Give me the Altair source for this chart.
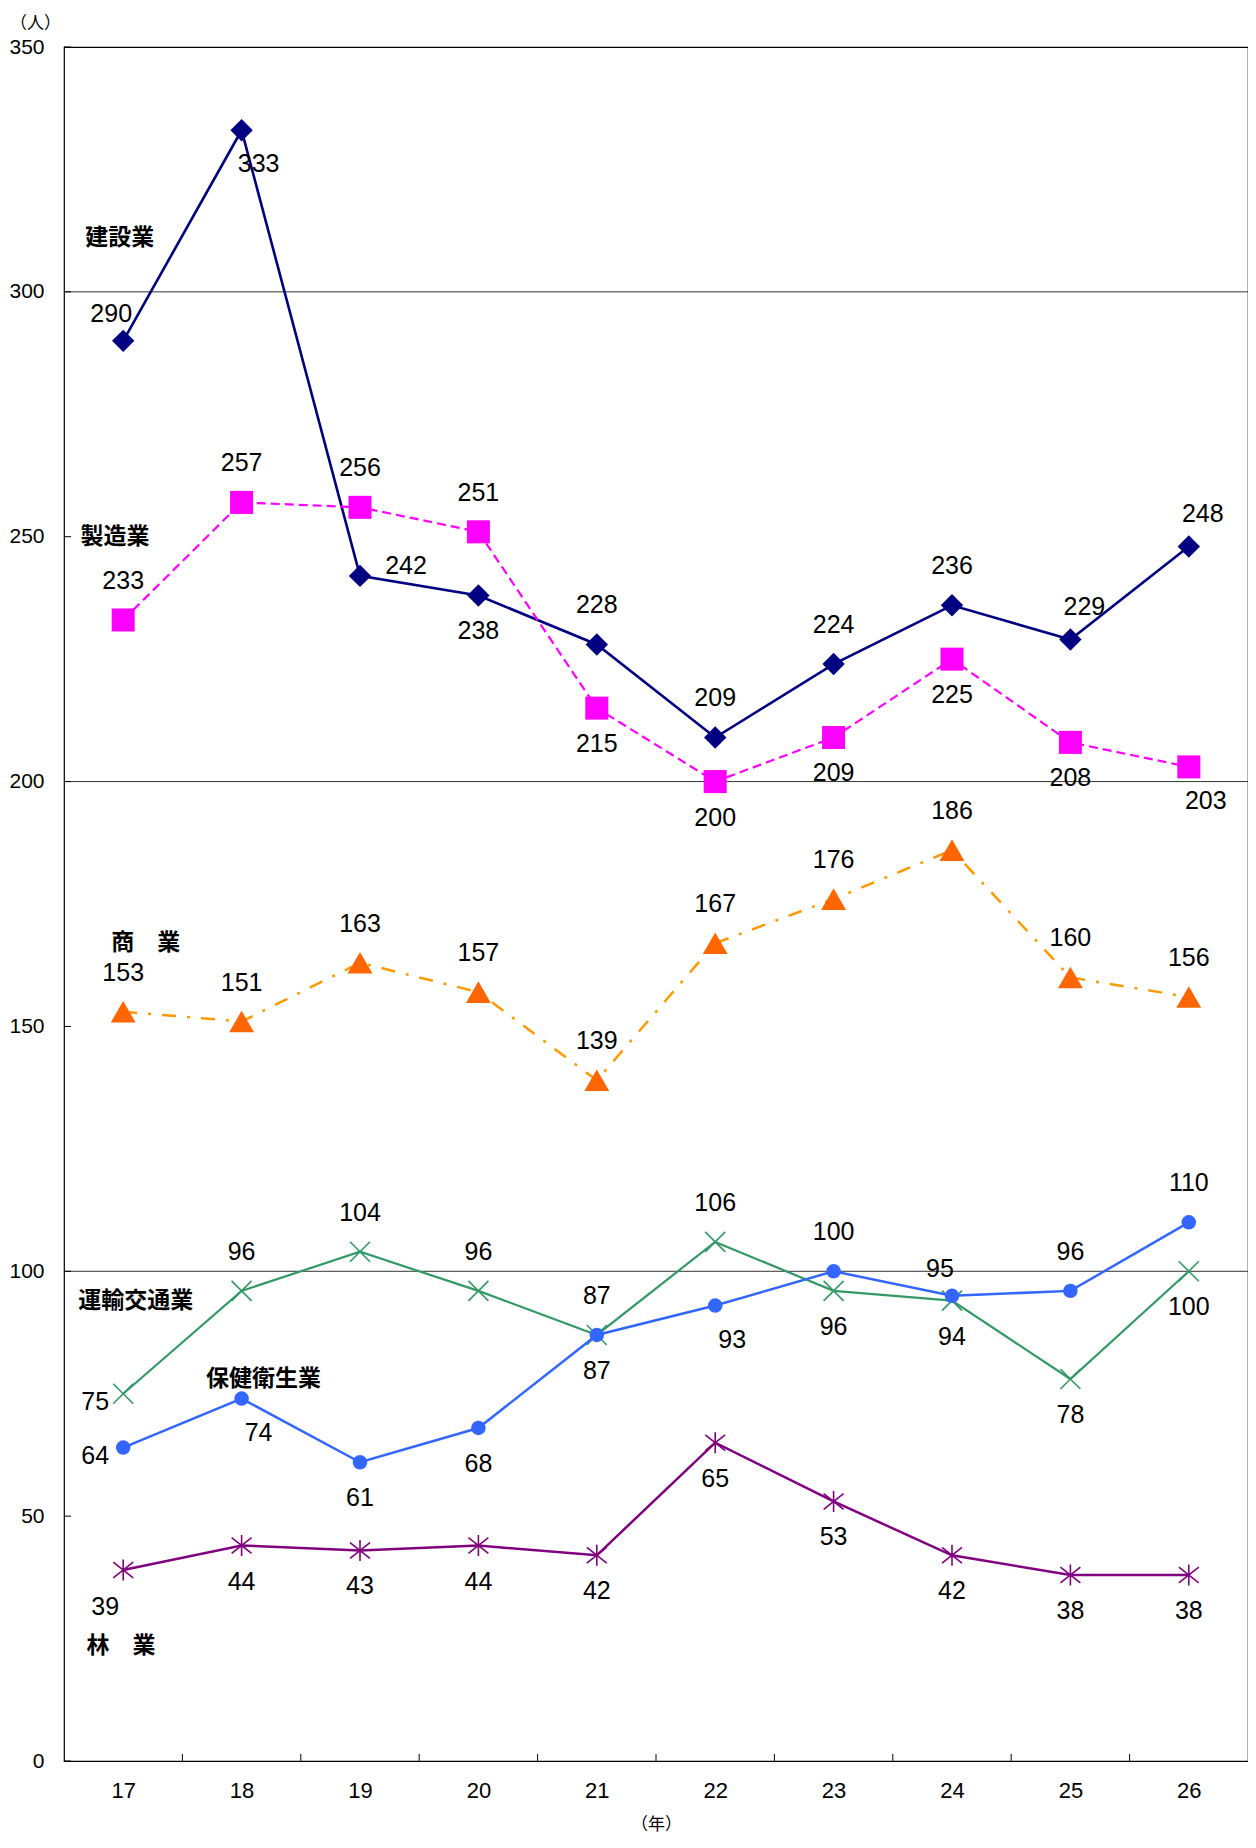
import altair as alt
import pandas as pd

# ---------------- data ----------------
years = [17, 18, 19, 20, 21, 22, 23, 24, 25, 26]

series_names = ["建設業", "製造業", "商業", "運輸交通業", "保健衛生業", "林業"]

kensetsu = [290, 333, 242, 238, 228, 209, 224, 236, 229, 248]
seizo = [233, 257, 256, 251, 215, 200, 209, 225, 208, 203]
shogyo = [153, 151, 163, 157, 139, 167, 176, 186, 160, 156]
unyu = [75, 96, 104, 96, 87, 106, 96, 94, 78, 100]
hoken = [64, 74, 61, 68, 87, 93, 100, 95, 96, 110]
ringyo = [39, 44, 43, 44, 42, 65, 53, 42, 38, 38]

# label placement of each value (compass direction from its marker)
kensetsu_pos = ["NW", "SE", "E", "S", "N", "N", "N", "N", "NE", "NE"]
seizo_pos = ["N", "N", "N", "N", "S", "S", "S", "S", "S", "SE"]
shogyo_pos = ["N", "N", "N", "N", "N", "N", "N", "N", "N", "N"]
unyu_pos = ["W", "N", "N", "N", "N", "N", "S", "S", "S", "S"]
hoken_pos = ["W", "SE", "S", "S", "S", "SE", "N", "NW", "N", "N"]
ringyo_pos = ["SW", "S", "S", "S", "S", "S", "S", "S", "S", "S"]

# series name annotations
name_text = ["建設業", "製造業", "商　業", "運輸交通業", "保健衛生業", "林　業"]
name_x = [16.68, 16.64, 16.90, 16.62, 17.70, 16.69]
name_y = [311, 250, 167, 94, 78, 23.5]

y_tick_values = [0, 50, 100, 150, 200, 250, 300, 350]
grid_values = [100, 200, 300]

# ---------------- build tables ----------------
values = [kensetsu, seizo, shogyo, unyu, hoken, ringyo]
positions = [kensetsu_pos, seizo_pos, shogyo_pos, unyu_pos, hoken_pos, ringyo_pos]
rows = []
for name, vals, poss in zip(series_names, values, positions):
    for yr, v, p in zip(years, vals, poss):
        rows.append({"series": name, "year": yr, "value": v, "pos": p})
df = pd.DataFrame(rows)

names_df = pd.DataFrame({"year": name_x, "value": name_y, "label": name_text})
grid_df = pd.DataFrame({"value": grid_values})
ytick_df = pd.DataFrame({"value": y_tick_values})
xtick_df = pd.DataFrame({"year": [y + 0.5 for y in years[:-1]]})

W, H = 1184, 1714
NUM_FONT = "Liberation Sans"
CJK_FONT = "Noto Sans CJK JP"

x_enc = alt.X(
    "year:Q",
    scale=alt.Scale(domain=[16.5, 26.5], nice=False, zero=False),
    axis=alt.Axis(
        values=years, format="d", grid=False, ticks=False, tickSize=0, domain=False,
        labelFont=NUM_FONT, labelFontSize=22, labelColor="#000",
        labelPadding=29, labelBaseline="middle",
        title="（年）", titleFont=CJK_FONT, titleFontSize=17, titleFontWeight="normal",
        titleColor="#000", titleY=63, titleBaseline="middle",
    ),
)
y_enc = alt.Y(
    "value:Q",
    scale=alt.Scale(domain=[0, 350], nice=False),
    axis=alt.Axis(
        values=y_tick_values, grid=False, ticks=False, tickSize=0, domain=False,
        labelFont=NUM_FONT, labelFontSize=21, labelColor="#000", labelPadding=20,
        title="（人）", titleFont=CJK_FONT, titleFontSize=17, titleFontWeight="normal",
        titleColor="#000", titleAngle=0, titleX=-29, titleY=-24,
        titleAlign="center", titleBaseline="middle",
    ),
)

layers = []

# gridlines
layers.append(
    alt.Chart(grid_df).mark_rule(color="#333333", strokeWidth=1).encode(
        y=y_enc, x=alt.value(0), x2=alt.value(W)
    )
)
# inner y ticks
layers.append(
    alt.Chart(ytick_df).mark_rule(color="#000000", strokeWidth=1).encode(
        y=y_enc, x=alt.value(0), x2=alt.value(7)
    )
)
# inner x ticks (between categories)
layers.append(
    alt.Chart(xtick_df).mark_rule(color="#000000", strokeWidth=1).encode(
        x=x_enc, y=alt.value(H - 7), y2=alt.value(H)
    )
)

X_SHAPE = "M-1,-1L1,1M-1,1L1,-1"
STAR_SHAPE = "M-0.95,-0.75L0.95,0.75M-0.95,0.75L0.95,-0.75M0,-1L0,1"

styles = {
    "建設業": dict(line="#000080", mark="#000080", dash=None, lw=2.6,
                shape="diamond", size=500, filled=True),
    "製造業": dict(line="#FF00FF", mark="#FF00FF", dash=[9, 5], lw=2.2,
                shape="square", size=530, filled=True),
    "商業": dict(line="#FF9900", mark="#FF6600", dash=[14, 11, 3, 11], lw=2.5,
               shape="triangle-up", size=620, filled=True),
    "運輸交通業": dict(line="#339966", mark="#339966", dash=None, lw=2.2,
                  shape=X_SHAPE, size=400, filled=False),
    "保健衛生業": dict(line="#3366FF", mark="#3366FF", dash=None, lw=2.5,
                  shape="circle", size=210, filled=True),
    "林業": dict(line="#800080", mark="#800080", dash=None, lw=2.5,
               shape=STAR_SHAPE, size=440, filled=False),
}

for name in series_names:
    st = styles[name]
    base = alt.Chart(df).transform_filter(alt.datum.series == name)
    line_kwargs = dict(color=st["line"], strokeWidth=st["lw"])
    if st["dash"] is not None:
        line_kwargs["strokeDash"] = st["dash"]
    layers.append(base.mark_line(**line_kwargs).encode(x=x_enc, y=y_enc))
    if st["filled"]:
        pt = base.mark_point(shape=st["shape"], size=st["size"], filled=True,
                             fill=st["mark"], strokeWidth=0, opacity=1)
    else:
        pt = base.mark_point(shape=st["shape"], size=st["size"], filled=False,
                             stroke=st["mark"], strokeWidth=1.6, opacity=1)
    layers.append(pt.encode(x=x_enc, y=y_enc))

# value labels
offsets = {
    "N": (0, -39), "S": (0, 36), "E": (46, -10), "W": (-28, 8),
    "NE": (14, -33), "NW": (-12, -27), "SE": (17, 34), "SW": (-18, 37),
}
for code, (dx, dy) in offsets.items():
    layers.append(
        alt.Chart(df).transform_filter(alt.datum.pos == code).mark_text(
            dx=dx, dy=dy, font=NUM_FONT, fontSize=25, color="#000000",
            align="center", baseline="middle",
        ).encode(x=x_enc, y=y_enc, text=alt.Text("value:Q", format="d"))
    )

# series name annotations
layers.append(
    alt.Chart(names_df).mark_text(
        font=CJK_FONT, fontSize=23, fontWeight="bold", color="#000000",
        align="left", baseline="middle",
    ).encode(x=x_enc, y=y_enc, text="label:N")
)

chart = (
    alt.layer(*layers)
    .properties(
        width=W, height=H,
        padding={"left": 56, "top": 39, "right": 0, "bottom": 75},
        autosize=alt.AutoSizeParams(type="none"),
        background="#ffffff",
    )
    .configure_view(stroke="#000000", strokeWidth=1.2)
)

chart.save("out.html", embed_options={"renderer": "svg", "actions": False})
